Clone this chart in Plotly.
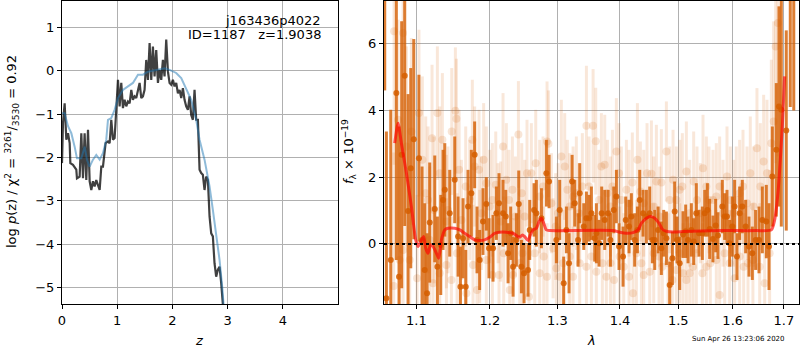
import plotly.graph_objects as go

# ---------------- left panel: log p(z) ----------------
z_pz = [0.0, 0.018, 0.048, 0.078, 0.109, 0.139, 0.151, 0.199, 0.259, 0.271, 0.320, 0.350, 0.380,
        0.410, 0.440, 0.471, 0.501, 0.531, 0.561, 0.591, 0.621, 0.652, 0.682, 0.712, 0.742, 0.790,
        0.833, 0.863, 0.893, 0.923, 0.953, 0.983, 1.014, 1.044, 1.074, 1.104, 1.134, 1.164, 1.195,
        1.225, 1.255, 1.285, 1.315, 1.345, 1.376, 1.406, 1.436, 1.466, 1.496, 1.526, 1.557, 1.587,
        1.617, 1.647, 1.677, 1.707, 1.738, 1.768, 1.798, 1.828, 1.858, 1.888, 1.919, 1.949, 1.979,
        2.009, 2.039, 2.069, 2.100, 2.130, 2.160, 2.190, 2.220, 2.250, 2.281, 2.311, 2.341, 2.371,
        2.401, 2.431, 2.462, 2.492, 2.522, 2.552, 2.582, 2.612, 2.643, 2.673, 2.703, 2.733, 2.763,
        2.793, 2.824, 2.854, 2.884, 2.914, 2.940]
logp_pz = [-2.13, -1.21, -0.75, -1.59, -1.44, -1.67, -2.13, -2.17, -2.28, -2.48, -2.44, -1.44, -2.48,
           -1.44, -2.52, -1.36, -2.55, -2.75, -2.55, -2.67, -2.52, -2.63, -2.75, -2.21, -2.21, -1.67,
           -1.63, -1.67, -1.13, -1.59, -1.55, -0.90, -0.21, -0.82, -0.28, -0.86, -0.67, -0.82, -0.71,
           -0.75, -0.44, -0.67, -0.59, -0.63, -0.44, -0.28, -0.63, -0.59, -0.44, 0.25, -0.21, 0.64,
           -0.21, 0.56, -0.13, 0.48, -0.28, 0.02, -0.21, 0.25, -0.13, 0.72, -0.02, -0.28, -0.32,
           -0.21, -0.36, -0.28, -0.52, -0.44, -0.63, -0.40, -0.67, -0.82, -0.90, -0.59, -1.02, -1.13,
           -0.44, -1.13, -1.13, -2.28, -2.36, -2.40, -2.75, -2.44, -2.52, -3.36, -3.75, -3.82, -4.44,
           -4.75, -4.59, -4.52, -4.90, -5.38, -5.80]

z_prior = [0.0, 0.048, 0.109, 0.169, 0.229, 0.271, 0.350, 0.410, 0.452, 0.501, 0.561, 0.621, 0.682,
           0.742, 0.802, 0.833, 0.893, 0.953, 1.014, 1.104, 1.195, 1.285, 1.376, 1.466, 1.557, 1.707,
           1.858, 1.949, 2.069, 2.160, 2.250, 2.341, 2.431, 2.492, 2.582, 2.673, 2.733, 2.793, 2.854,
           2.902, 2.926, 2.944]
logp_prior = [-0.98, -0.98, -1.28, -1.44, -1.75, -2.02, -2.02, -1.75, -2.05, -2.21, -2.05, -1.94, -2.05,
              -1.90, -1.59, -1.13, -1.09, -0.90, -0.63, -0.44, -0.36, -0.28, -0.09, -0.09, -0.02, 0.02,
              0.06, 0.02, -0.05, -0.17, -0.40, -0.67, -1.13, -1.59, -2.05, -2.67, -3.21, -3.75, -4.36,
              -4.98, -5.38, -5.67]

# ---------------- right panel: spectrum ----------------
lam_dark = [1.0595, 1.0616, 1.0671, 1.0742, 1.0776, 1.0810, 1.0849, 1.0892, 1.0927, 1.0966,
            1.1033, 1.1074, 1.1109, 1.1140, 1.1175, 1.1242, 1.1277, 1.1322, 1.1353, 1.1376,
            1.1443, 1.1511, 1.1557, 1.1589, 1.1625, 1.1662, 1.1694, 1.1740, 1.1786, 1.1819,
            1.1856, 1.1903, 1.1950, 1.1988, 1.2045, 1.2093, 1.2131, 1.2189, 1.2228, 1.2262,
            1.2300, 1.2335, 1.2383, 1.2418, 1.2457, 1.2496, 1.2555, 1.2580, 1.2645, 1.2680,
            1.2756, 1.2831, 1.2872, 1.2984, 1.3035, 1.3097, 1.3139, 1.3180, 1.3228, 1.3269,
            1.3322, 1.3348, 1.3412, 1.3454, 1.3497, 1.3534, 1.3587, 1.3614, 1.3657, 1.3700,
            1.3749, 1.3804, 1.3842, 1.3897, 1.3940, 1.3984, 1.4051, 1.4096, 1.4151, 1.4190,
            1.4246, 1.4292, 1.4331, 1.4388, 1.4445, 1.4502, 1.4548, 1.4588, 1.4646, 1.4703,
            1.4744, 1.4791, 1.4849, 1.4896, 1.4937, 1.4979, 1.5026, 1.5085, 1.5133, 1.5175,
            1.5235, 1.5277, 1.5325, 1.5374, 1.5435, 1.5478, 1.5527, 1.5569, 1.5630, 1.5680,
            1.5723, 1.5804, 1.5848, 1.5892, 1.5942, 1.5992, 1.6036, 1.6081, 1.6132, 1.6183,
            1.6247, 1.6311, 1.6376, 1.6440, 1.6506, 1.6571, 1.6650, 1.6703, 1.6769, 1.6848,
            1.6901, 1.6948, 1.7048, 1.7129, 1.7200]
flux_dark = [8.0, -1.63, -0.48, 4.52, -0.98, 2.67, 5.04, 0.99, 2.27, 3.14,
             2.57, 0.12, -0.78, -1.48, 0.64, 1.05, -0.68, -0.03, 1.32, 1.62,
             0.92, 1.92, 0.22, -1.28, 0.17, -1.28, 1.12, 1.52, 2.67, 0.12,
             -0.48, 0.67, 1.20, -0.13, -0.13, 0.92, 1.22, 0.92, 0.82, -0.28,
             0.32, -0.68, 0.12, 1.20, -0.68, -0.88, -0.78, 0.42, 1.02, 0.92,
             0.77, 2.12, 1.87, 0.12, 1.02, -1.18, 0.42, -0.58, 1.87, 1.22,
             0.12, 1.52, 0.52, 0.77, 0.77, 0.92, 0.17, 0.32, 0.02, 0.92,
             0.72, 0.92, 0.12, 1.02, 1.42, -0.08, -0.38, 0.72, 0.52, 0.82,
             0.12, 0.42, 1.32, 0.92, 0.82, 0.92, 0.12, 0.12, 0.42, -0.13,
             0.32, 0.17, -1.23, -0.43, 0.97, 0.12, -0.58, 0.28, 0.38, 0.12,
             0.42, 0.07, 0.92, 0.32, 0.32, 0.92, 1.02, 0.45, 0.15, 0.55,
             0.25, 1.12, 0.82, 0.82, 0.02, 0.52, 1.12, -0.38, 0.92, 1.12,
             0.52, -0.08, -0.28, 0.12, 0.12, 0.72, 0.67, -0.08, 2.02, 2.82,
             4.12, 4.02, 3.40, 8.5, 9.0]
err_dark = [3.4, 5.0, 4.5, 5.0, 4.5, 4.0, 4.5, 3.5, 3.0, 3.0,
            2.5, 2.2, 2.0, 1.8, 1.8, 1.6, 1.5, 1.5, 1.5, 1.4,
            1.3, 1.3, 1.2, 1.2, 1.2, 1.1, 1.1, 1.3, 1.0, 1.0,
            0.9, 1.0, 0.8, 0.9, 1.0, 0.8, 0.9, 1.0, 0.8, 0.9,
            0.8, 0.9, 0.8, 1.0, 0.8, 0.9, 0.8, 0.9, 0.8, 1.0,
            0.9, 1.0, 0.8, 0.7, 0.9, 0.8, 0.7, 0.9, 0.8, 0.7,
            0.8, 0.9, 0.7, 0.8, 0.7, 0.8, 0.7, 0.9, 0.7, 0.8,
            0.9, 0.7, 0.8, 0.7, 0.8, 0.7, 0.9, 0.7, 0.8, 0.7,
            0.8, 0.7, 0.9, 0.7, 0.8, 0.8, 0.7, 0.9, 0.7, 0.8,
            0.7, 0.8, 0.7, 0.8, 0.9, 0.7, 0.8, 0.7, 0.8, 0.7,
            0.8, 0.7, 0.9, 0.7, 0.8, 0.7, 0.8, 0.9, 0.7, 0.8,
            0.7, 0.8, 0.7, 0.8, 0.7, 0.9, 0.8, 0.7, 0.8, 0.8,
            0.8, 0.9, 0.8, 0.9, 1.0, 1.0, 1.1, 1.3, 1.5, 2.0,
            3.0, 3.5, 3.0, 4.4, 5.0]

lam_light = [1.0713, 1.0828, 1.0764, 1.0871, 1.0935, 1.1033, 1.1078, 1.1122, 1.1153, 1.1206,
             1.1233, 1.1277, 1.1308, 1.1344, 1.1398, 1.1420, 1.1470, 1.1520, 1.1534, 1.1571,
             1.1603, 1.1662, 1.1717, 1.1754, 1.1786, 1.1847, 1.1880, 1.1912, 1.1950, 1.1998,
             1.2036, 1.2084, 1.2117, 1.2155, 1.2189, 1.2237, 1.2276, 1.2325, 1.2369, 1.2413,
             1.2462, 1.2506, 1.2540, 1.2605, 1.2670, 1.2730, 1.2781, 1.2841, 1.2862, 1.2908,
             1.2974, 1.3010, 1.3061, 1.3113, 1.3154, 1.3191, 1.3243, 1.3295, 1.3337, 1.3390,
             1.3454, 1.3497, 1.3561, 1.3604, 1.3657, 1.3695, 1.3749, 1.3793, 1.3842, 1.3875,
             1.3940, 1.3984, 1.4023, 1.4107, 1.4151, 1.4207, 1.4292, 1.4343, 1.4399, 1.4456,
             1.4531, 1.4571, 1.4617, 1.4674, 1.4703, 1.4791, 1.4849, 1.4908, 1.4967, 1.5026,
             1.5073, 1.5145, 1.5205, 1.5277, 1.5337, 1.5398, 1.5447, 1.5508, 1.5557, 1.5630,
             1.5692, 1.5754, 1.5817, 1.5892, 1.5955, 1.6017, 1.6068, 1.6132, 1.6196, 1.6273,
             1.6337, 1.6401, 1.6466, 1.6532, 1.6597, 1.6663, 1.6749, 1.6795, 1.6835, 1.6881,
             1.0708, 1.0785, 1.0828, 1.0913, 1.1009, 1.1175, 1.1219, 1.1308, 1.1398, 1.1466,
             1.1543, 1.1671, 1.1763, 1.1819, 1.1856, 1.1950, 1.2036, 1.2131, 1.2199, 1.2286,
             1.2335, 1.2432, 1.2472, 1.2570, 1.2655, 1.2730, 1.2791, 1.2841, 1.2933, 1.2984,
             1.3035, 1.3087, 1.3191, 1.3243, 1.3348, 1.3454, 1.3534, 1.3614, 1.3711, 1.3776,
             1.3842, 1.3902, 1.3995, 1.4062, 1.4151, 1.4218, 1.4275, 1.4360, 1.4399, 1.4502,
             1.4571, 1.4663, 1.4720, 1.4820, 1.4896, 1.4967, 1.5026, 1.5085, 1.5145, 1.5205,
             1.5265, 1.5325, 1.5435, 1.5508, 1.5581, 1.5692, 1.5754, 1.5848, 1.5942, 1.6036,
             1.6132, 1.6209, 1.6292, 1.6388, 1.6519, 1.6617, 1.6715]
flux_light = [6.37, 6.32, 3.72, 2.92, 3.37, 3.92, 2.52, 1.52, 1.32, 3.17,
              1.02, 3.92, 2.12, 3.12, 0.67, 1.02, 3.37, 3.99, 3.75, 2.22,
              0.72, 1.72, 1.32, 3.12, 2.32, 2.22, 0.92, 2.52, 1.82, 1.12,
              1.32, 1.77, 0.92, 0.67, 2.92, 1.92, 1.32, 1.62, 0.82, 3.28,
              1.52, 0.82, 2.12, 2.12, 2.42, 1.42, 1.72, 3.07, 3.00, 1.22,
              0.52, 0.92, 2.62, 2.32, 1.62, 1.12, 1.42, 1.52, 0.92, 1.72,
              3.54, 1.72, 3.54, 3.08, 1.32, 2.32, 2.37, 1.52, 1.12, 1.72,
              2.77, 2.12, 1.32, 1.62, 1.22, 1.84, 2.52, 1.57, 1.22, 2.12,
              2.10, 1.12, 1.87, 0.82, 1.84, 2.77, 1.32, 1.92, 1.32, 1.62,
              1.72, 2.17, 0.92, 1.87, 1.32, 0.92, 2.27, 1.72, 1.32, 1.32,
              1.42, 1.72, 0.92, 2.02, 1.32, 0.92, 1.32, 1.52, 1.72, 1.22,
              2.12, 1.12, 2.87, 1.72, 2.47, 2.12, 3.02, 3.67, 5.92, 6.62,
              -1.26, -0.48, -0.18, -0.48, -1.03, 0.12, -1.18, -0.88, -0.63, -1.08,
              -0.28, -1.48, -0.63, -1.38, -0.08, -0.48, -0.93, -0.93, -0.28, -1.38,
              -0.93, -0.58, -0.28, -1.58, -0.28, -0.88, -0.38, -0.98, -0.13, -0.73,
              -0.98, -0.58, -0.38, -0.98, -0.58, -0.68, -0.38, -0.83, -0.58, -0.98,
              -0.58, -1.08, -0.38, -0.68, -0.98, -1.48, -0.28, -0.58, -0.93, -0.83,
              -0.28, -0.38, -0.68, -0.58, -1.08, -0.78, -0.28, -0.88, -1.08, -0.88,
              -0.68, -0.28, -0.88, -0.68, -0.58, -0.48, -1.53, -0.28, -0.58, -1.03,
              -0.38, -0.68, -0.58, -0.48, -0.68, -1.18, -0.28]
err_light = [4.0, 3.5, 3.0, 3.0, 2.8, 2.5, 2.5, 2.3, 2.2, 2.2,
             2.2, 2.0, 2.0, 2.0, 2.0, 1.9, 1.9, 1.9, 1.8, 1.8,
             1.8, 1.8, 1.8, 1.8, 1.8, 1.8, 1.7, 1.7, 1.7, 1.7,
             1.7, 1.6, 1.5, 1.8, 1.6, 1.7, 1.5, 1.6, 1.8, 1.6,
             1.5, 1.7, 1.6, 1.5, 1.6, 1.7, 1.5, 1.8, 1.6, 1.5,
             1.6, 1.5, 1.7, 1.6, 1.5, 1.6, 1.5, 1.7, 1.5, 1.6,
             1.8, 1.5, 1.7, 1.6, 1.5, 1.6, 1.5, 1.6, 1.5, 1.7,
             1.6, 1.5, 1.6, 1.5, 1.6, 1.5, 1.7, 1.5, 1.6, 1.5,
             1.6, 1.5, 1.7, 1.5, 1.6, 1.5, 1.6, 1.5, 1.6, 1.5,
             1.6, 1.5, 1.6, 1.5, 1.6, 1.5, 1.6, 1.5, 1.6, 1.5,
             1.6, 1.5, 1.6, 1.5, 1.6, 1.6, 1.6, 1.6, 1.7, 1.7,
             1.7, 1.8, 1.8, 1.9, 2.0, 2.2, 2.5, 3.0, 3.5, 4.0,
             4.0, 3.5, 3.0, 2.8, 2.5, 2.2, 2.2, 2.0, 2.0, 1.9,
             1.8, 1.8, 1.8, 1.8, 1.7, 1.7, 1.7, 1.7, 1.7, 1.7,
             1.7, 1.6, 1.6, 1.6, 1.6, 1.6, 1.5, 1.6, 1.5, 1.5,
             1.5, 1.6, 1.5, 1.5, 1.6, 1.5, 1.5, 1.6, 1.5, 1.5,
             1.6, 1.5, 1.5, 1.6, 1.5, 1.5, 1.6, 1.5, 1.5, 1.6,
             1.5, 1.5, 1.6, 1.5, 1.5, 1.6, 1.5, 1.5, 1.6, 1.5,
             1.5, 1.6, 1.5, 1.5, 1.6, 1.5, 1.5, 1.6, 1.6, 1.6,
             1.6, 1.6, 1.7, 1.7, 1.9, 2.0, 2.5]

lam_model = [1.0721, 1.0764, 1.0806, 1.0871, 1.0935, 1.0991, 1.1022, 1.1065, 1.1096, 1.1122,
             1.1153, 1.1184, 1.1219, 1.1264, 1.1295, 1.1331, 1.1376, 1.1420, 1.1511, 1.1580,
             1.1648, 1.1717, 1.1786, 1.1856, 1.1927, 1.1998, 1.2069, 1.2141, 1.2237, 1.2335,
             1.2393, 1.2432, 1.2472, 1.2506, 1.2555, 1.2590, 1.2630, 1.2680, 1.2720, 1.2756,
             1.2791, 1.2831, 1.2882, 1.3886, 1.3995, 1.4107, 1.4218, 1.4303, 1.4360, 1.4445,
             1.4514, 1.4588, 1.4663, 1.4720, 1.4791, 1.4908, 1.5085, 1.5386, 1.5817, 1.6453,
             1.6749, 1.6815, 1.6881, 1.6928, 1.6968, 1.7015]
flux_model = [3.02, 3.62, 3.02, 2.12, 1.12, 0.12, -0.08, 0.12, 0.22, -0.13,
              -0.28, -0.03, -0.08, -0.28, -0.43, 0.12, 0.42, 0.47, 0.47, 0.42,
              0.32, 0.22, 0.12, 0.10, 0.12, 0.20, 0.32, 0.35, 0.35, 0.32,
              0.24, 0.20, 0.27, 0.22, 0.10, 0.27, 0.42, 0.47, 0.67, 0.77,
              0.62, 0.42, 0.40, 0.40, 0.35, 0.32, 0.34, 0.42, 0.62, 0.77,
              0.82, 0.77, 0.62, 0.44, 0.38, 0.36, 0.37, 0.39, 0.40, 0.40,
              0.42, 0.72, 1.52, 2.52, 3.52, 5.02]

pz_ticks = [0, 1, 2, 3, 4]
logp_ticks = [-5, -4, -3, -2, -1, 0, 1]
lam_ticks = [1.1, 1.2, 1.3, 1.4, 1.5, 1.6, 1.7]
flux_ticks = [0, 2, 4, 6]

FONT = "DejaVu Sans"
ORANGE = "213,94,0"
W, H = 800, 350

fig = go.Figure()

# left panel
fig.add_trace(go.Scatter(x=z_pz, y=logp_pz, mode="lines",
                         line=dict(color="rgba(0,0,0,0.75)", width=2.2),
                         xaxis="x", yaxis="y", showlegend=False))
fig.add_trace(go.Scatter(x=z_prior, y=logp_prior, mode="lines",
                         line=dict(color="rgba(31,119,180,0.5)", width=2),
                         xaxis="x", yaxis="y", showlegend=False))

# right panel
fig.add_trace(go.Scatter(x=lam_light, y=flux_light, mode="markers",
                         marker=dict(color=f"rgba({ORANGE},0.16)", size=8),
                         error_y=dict(type="data", array=err_light, color=f"rgba({ORANGE},0.15)",
                                      thickness=3, width=0),
                         xaxis="x2", yaxis="y2", showlegend=False))
fig.add_trace(go.Scatter(x=lam_dark, y=flux_dark, mode="markers",
                         marker=dict(color=f"rgba({ORANGE},0.85)", size=6),
                         error_y=dict(type="data", array=err_dark, color=f"rgba({ORANGE},0.8)",
                                      thickness=3, width=0),
                         xaxis="x2", yaxis="y2", showlegend=False))
fig.add_trace(go.Scatter(x=lam_model, y=flux_model, mode="lines",
                         line=dict(color="rgba(255,0,0,0.65)", width=3, shape="spline", smoothing=0.6),
                         xaxis="x2", yaxis="y2", showlegend=False))

fig.add_shape(type="line", xref="x2 domain", yref="y2", x0=0, x1=1, y0=0, y1=0,
              line=dict(color="black", width=2, dash="dot"))

axis_common = dict(showgrid=True, gridcolor="#b0b0b0", gridwidth=1, zeroline=False,
                   showline=True, linecolor="black", linewidth=1, mirror=True,
                   ticks="outside", ticklen=4, tickcolor="black", tickwidth=1, automargin=False,
                   tickfont=dict(family=FONT, size=13, color="black"))

ydom = [1 - 304 / H, 1 - 1 / H]
fig.update_layout(
    width=W, height=H, margin=dict(l=0, r=0, t=0, b=0, autoexpand=False),
    paper_bgcolor="white", plot_bgcolor="white",
    font=dict(family=FONT, size=13, color="black"),
    xaxis=dict(domain=[62 / W, 338 / W], range=[0, 5.0], tickvals=pz_ticks, anchor="y", **axis_common),
    yaxis=dict(domain=ydom, range=[-5.38, 1.61], tickvals=logp_ticks, anchor="x", **axis_common),
    xaxis2=dict(domain=[384 / W, 799 / W], type="log", range=[0.02473, 0.23822],
                tickvals=lam_ticks, ticktext=[f"{v:.1f}" for v in lam_ticks], anchor="y2", **axis_common),
    yaxis2=dict(domain=ydom, range=[-1.8, 7.28], tickvals=flux_ticks, anchor="x2", **axis_common),
)

def ann(text, x, y, size=13, **kw):
    fig.add_annotation(text=text, x=x / W, y=1 - y / H, xref="paper", yref="paper",
                       showarrow=False, font=dict(family=FONT, size=size, color="black"), **kw)

ann("j163436p4022", 323, 20, xanchor="right", yanchor="middle")
ann("ID=1187   z=1.9038", 323, 35, xanchor="right", yanchor="middle")
ann("<i>z</i>", 199, 340, xanchor="center", yanchor="middle")
ann("<i>λ</i>", 591, 340, xanchor="center", yanchor="middle")
ann("log <i>p</i>(z) / χ<sup>2</sup> = <sup>3261</sup>/<sub>3530</sub> = 0.92", 12, 152,
    xanchor="center", yanchor="middle", textangle=-90)
ann("<i>f</i><sub>λ</sub> × 10<sup>−19</sup>", 349, 152, xanchor="center", yanchor="middle", textangle=-90)
ann("Sun Apr 26 13:23:06 2020", 787, 339, size=7, xanchor="right", yanchor="middle")

fig.write_html("out.html", config={"displayModeBar": False},
               post_script="document.body.style.margin='0';document.body.style.overflow='hidden';")
